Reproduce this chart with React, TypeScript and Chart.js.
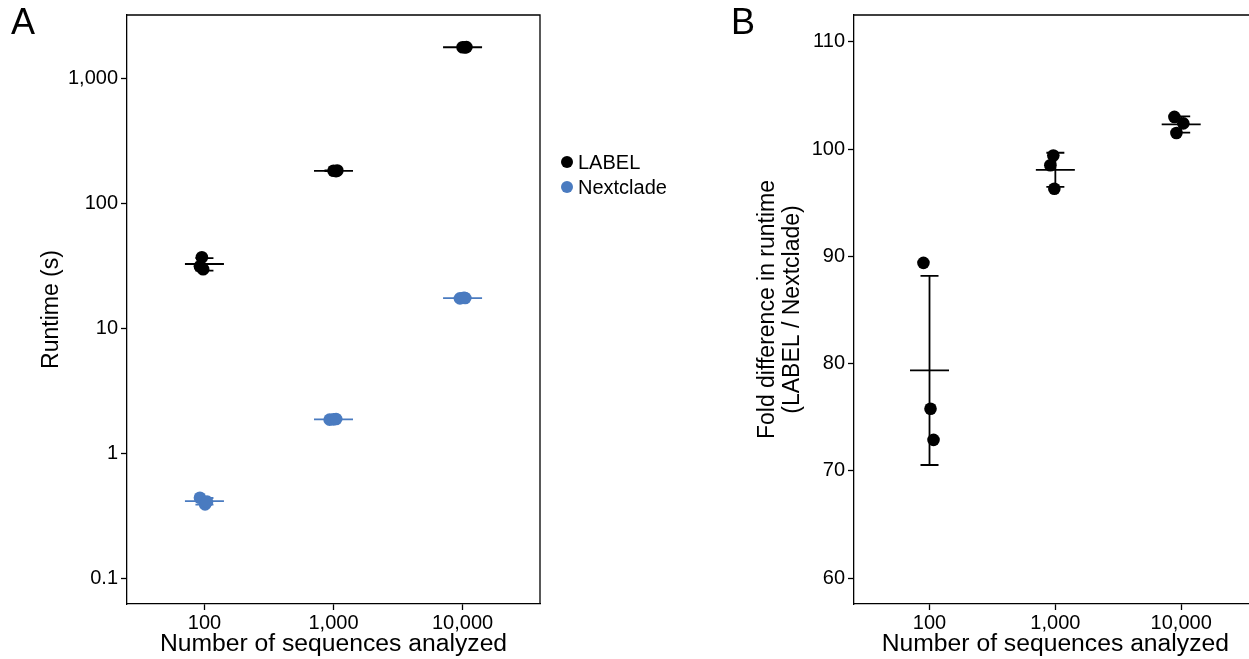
import React, { useEffect, useRef } from "react";
import { Chart, registerables } from "chart.js";

Chart.register(...registerables);

// ---------- data ----------
const categories = ["100", "1,000", "10,000"];
const runtimeTicks = [0.1, 1, 10, 100, 1000];
const foldTicks = [60, 70, 80, 90, 100, 110];

// Panel A: runtime (s), three replicates per sequence count
const labelRuntime = [
  [37.1, 31.5, 29.8],
  [183, 182, 184],
  [1785, 1780, 1790],
];
const labelJitter = [
  [-0.02, -0.035, -0.01],
  [0.0, 0.02, 0.03],
  [0.0, 0.02, 0.03],
];
const nextcladeRuntime = [
  [0.44, 0.39, 0.41],
  [1.86, 1.87, 1.88],
  [17.4, 17.6, 17.5],
];
const nextcladeJitter = [
  [-0.035, 0.005, 0.02],
  [-0.03, 0.0, 0.02],
  [-0.02, 0.01, 0.02],
];

// Panel B: fold difference
const foldDiff = [
  [89.4, 75.8, 72.9],
  [99.4, 98.5, 96.3],
  [103.0, 102.4, 101.5],
];
const foldJitter = [
  [-0.048, 0.008, 0.032],
  [-0.016, -0.04, -0.008],
  [-0.054, 0.017, -0.038],
];

const BLUE = "#4a7bc0";
const FONT = "'Liberation Sans', Arial, Helvetica, sans-serif";

function meanSd(v: number[]) {
  const m = v.reduce((a, b) => a + b, 0) / v.length;
  const s = Math.sqrt(v.reduce((a, b) => a + (b - m) * (b - m), 0) / (v.length - 1));
  return { m, s };
}

function points(vals: number[][], jit: number[][]) {
  const out: { x: number; y: number }[] = [];
  vals.forEach((g, i) => g.forEach((v, j) => out.push({ x: i + 1 + jit[i][j], y: v })));
  return out;
}

const summaryPlugin = {
  id: "summaryBars",
  beforeDatasetsDraw(chart: any) {
    const groups = chart.options.plugins.summaryBars?.groups || [];
    const { ctx } = chart;
    const xs = chart.scales.x;
    const ys = chart.scales.y;
    ctx.save();
    ctx.lineWidth = 1.8;
    groups.forEach((g: any) => {
      ctx.strokeStyle = g.color;
      g.values.forEach((vals: number[], i: number) => {
        const { m, s } = meanSd(vals);
        const xc = xs.getPixelForValue(i + 1);
        const ym = ys.getPixelForValue(m);
        const yt = ys.getPixelForValue(m + s);
        const yb = ys.getPixelForValue(m - s);
        ctx.beginPath();
        ctx.moveTo(xc - 19.5, ym);
        ctx.lineTo(xc + 19.5, ym);
        ctx.moveTo(xc, yt);
        ctx.lineTo(xc, yb);
        ctx.moveTo(xc - 9, yt);
        ctx.lineTo(xc + 9, yt);
        ctx.moveTo(xc - 9, yb);
        ctx.lineTo(xc + 9, yb);
        ctx.stroke();
      });
    });
    ctx.restore();
  },
  afterDraw(chart: any) {
    const { ctx, chartArea: a } = chart;
    ctx.save();
    ctx.strokeStyle = "#000";
    ctx.lineWidth = 1.3;
    ctx.beginPath();
    ctx.moveTo(a.left, a.top);
    ctx.lineTo(a.right, a.top);
    ctx.lineTo(a.right, a.bottom);
    ctx.stroke();
    ctx.restore();
  },
};

function baseX() {
  return {
    type: "linear" as const,
    min: 0.4,
    max: 3.6,
    afterBuildTicks: (s: any) => {
      s.ticks = [1, 2, 3].map((v) => ({ value: v }));
    },
    afterFit: (s: any) => {
      s.height = 55;
      s.paddingLeft = 0;
      s.paddingRight = 0;
    },
    ticks: {
      color: "#000",
      font: { family: FONT, size: 20 },
      padding: 1,
      callback: (v: any) => categories[Number(v) - 1] ?? "",
    },
    grid: {
      drawOnChartArea: false,
      drawTicks: true,
      tickLength: 6,
      tickColor: "#000",
      tickWidth: 1.3,
    },
    border: { display: true, color: "#000", width: 1.3 },
    title: {
      display: true,
      text: "Number of sequences analyzed",
      color: "#000",
      font: { family: FONT, size: 24.7, lineHeight: 1.2 },
      padding: { top: 0, bottom: 0 },
    },
  };
}

function useChart(ref: React.RefObject<HTMLCanvasElement>, make: () => any) {
  useEffect(() => {
    if (!ref.current) return;
    const c = new Chart(ref.current, make());
    return () => c.destroy();
  }, []);
}

const yGrid = {
  drawOnChartArea: false,
  drawTicks: true,
  tickLength: 6,
  tickColor: "#000",
  tickWidth: 1.3,
};

export default function App() {
  const refA = useRef<HTMLCanvasElement>(null);
  const refB = useRef<HTMLCanvasElement>(null);

  useChart(refA as any, () => ({
    type: "scatter",
    data: {
      datasets: [
        {
          label: "LABEL",
          data: points(labelRuntime, labelJitter),
          backgroundColor: "#000",
          borderColor: "#000",
          pointRadius: 6.3,
          pointBorderWidth: 0,
        },
        {
          label: "Nextclade",
          data: points(nextcladeRuntime, nextcladeJitter),
          backgroundColor: BLUE,
          borderColor: BLUE,
          pointRadius: 6.3,
          pointBorderWidth: 0,
        },
      ],
    },
    plugins: [summaryPlugin],
    options: {
      responsive: false,
      animation: false,
      layout: { padding: { left: 0, top: 12, right: 160, bottom: 0 } },
      plugins: {
        legend: { display: false },
        tooltip: { enabled: false },
        summaryBars: {
          groups: [
            { values: labelRuntime, color: "#000" },
            { values: nextcladeRuntime, color: BLUE },
          ],
        },
      },
      scales: {
        x: baseX(),
        y: {
          type: "logarithmic",
          min: Math.pow(10, -1.207),
          max: Math.pow(10, 3.51),
          afterBuildTicks: (s: any) => {
            s.ticks = runtimeTicks.map((v) => ({ value: v }));
          },
          afterFit: (s: any) => {
            s.width = 127;
          },
          ticks: {
            color: "#000",
            font: { family: FONT, size: 20 },
            padding: 3,
            callback: (v: any) => Number(v).toLocaleString("en-US"),
          },
          grid: yGrid,
          border: { display: true, color: "#000", width: 1.3 },
          title: {
            display: true,
            text: "Runtime (s)",
            color: "#000",
            font: { family: FONT, size: 23, lineHeight: 1.2 },
            padding: { top: 38.2, bottom: 0 },
          },
        },
      },
    },
  }));

  useChart(refB as any, () => ({
    type: "scatter",
    data: {
      datasets: [
        {
          label: "Fold difference",
          data: points(foldDiff, foldJitter),
          backgroundColor: "#000",
          borderColor: "#000",
          pointRadius: 6.3,
          pointBorderWidth: 0,
        },
      ],
    },
    plugins: [summaryPlugin],
    options: {
      responsive: false,
      animation: false,
      layout: { padding: { left: 0, top: 12, right: 6, bottom: 0 } },
      plugins: {
        legend: { display: false },
        tooltip: { enabled: false },
        summaryBars: { groups: [{ values: foldDiff, color: "#000" }] },
      },
      scales: {
        x: baseX(),
        y: {
          type: "linear",
          min: 57.6,
          max: 112.5,
          afterBuildTicks: (s: any) => {
            s.ticks = foldTicks.map((v) => ({ value: v }));
          },
          afterFit: (s: any) => {
            s.width = 154;
          },
          ticks: {
            color: "#000",
            font: { family: FONT, size: 20 },
            padding: 3,
          },
          grid: yGrid,
          border: { display: true, color: "#000", width: 1.3 },
          title: {
            display: true,
            text: ["Fold difference in runtime", "(LABEL / Nextclade)"],
            color: "#000",
            font: { family: FONT, size: 23, lineHeight: 25 / 23 },
            padding: { top: 55.5, bottom: 0 },
          },
        },
      },
    },
  }));

  const panelLabel: React.CSSProperties = {
    position: "absolute",
    fontFamily: FONT,
    fontSize: 36,
    lineHeight: "36px",
    color: "#000",
  };
  const legText: React.CSSProperties = {
    position: "absolute",
    left: 578,
    fontFamily: FONT,
    fontSize: 20,
    lineHeight: "20px",
    color: "#000",
    whiteSpace: "nowrap",
  };
  const dot = (color: string, top: number): React.CSSProperties => ({
    position: "absolute",
    left: 561,
    top: top - 6,
    width: 12,
    height: 12,
    borderRadius: "50%",
    background: color,
  });

  return (
    <div
      style={{
        position: "absolute",
        left: 0,
        top: 0,
        width: 1249,
        height: 659,
        overflow: "hidden",
        background: "#fff",
      }}
    >
      <canvas
        ref={refA}
        width={700}
        height={659}
        style={{ position: "absolute", left: 0, top: 0, width: 700, height: 659 }}
      />
      <canvas
        ref={refB}
        width={563}
        height={659}
        style={{ position: "absolute", left: 700, top: 0, width: 563, height: 659 }}
      />
      <div style={{ ...panelLabel, left: 11, top: 4 }}>A</div>
      <div style={{ ...panelLabel, left: 731, top: 4 }}>B</div>
      <div style={dot("#000", 162)} />
      <div style={{ ...legText, top: 152 }}>LABEL</div>
      <div style={dot(BLUE, 187)} />
      <div style={{ ...legText, top: 177 }}>Nextclade</div>
    </div>
  );
}
